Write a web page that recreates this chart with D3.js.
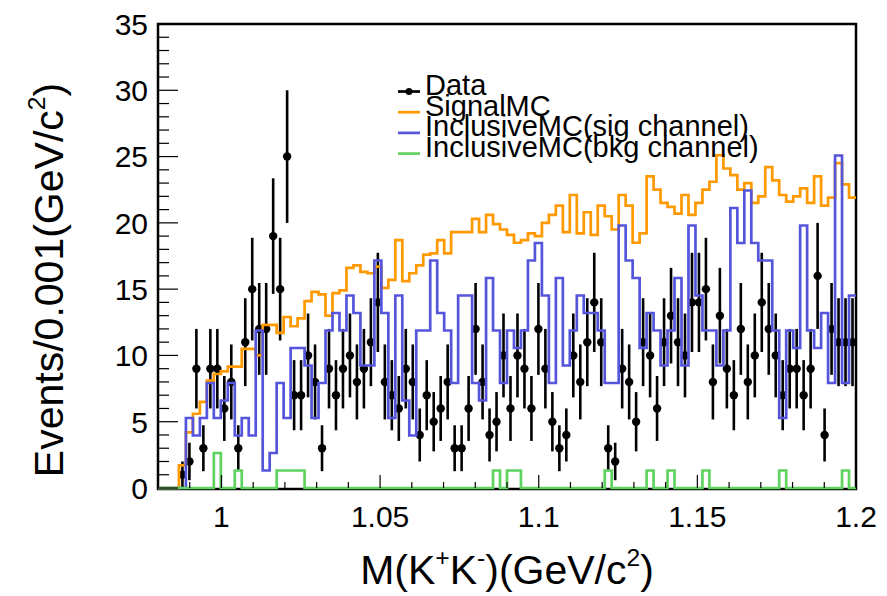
<!DOCTYPE html>
<html>
<head>
<meta charset="utf-8">
<script src="https://cdn.jsdelivr.net/npm/d3@7"></script>
<style>
  body { margin: 0; background: #fff; }
  svg { display: block; }
  text { font-family: "Liberation Sans", Arial, Helvetica, sans-serif; fill: #000; }
</style>
</head>
<body>
<div id="chart"></div>
<script>
// histogram range: 100 bins between 0.98 and 1.2
const xMin = 0.98, xMax = 1.2, nBins = 100;

// Data (events per bin)
const dataCounts = [
  0, 0, 0, 1, 2, 9, 3, 9, 9, 6,
  8, 3, 11, 15, 12, 12, 19, 15, 25, 7,
  7, 10, 8, 3, 9, 7, 9, 10, 8, 9,
  11, 14, 8, 7, 6, 9, 8, 4, 7, 5,
  6, 8, 3, 3, 6, 12, 8, 4, 5, 10,
  6, 10, 9, 6, 12, 9, 5, 3, 4, 10,
  8, 11, 14, 11, 3, 2, 9, 8, 5, 11,
  10, 6, 11, 13, 11, 10, 14, 14, 15, 8,
  13, 9, 7, 12, 8, 10, 14, 12, 10, 7,
  9, 9, 7, 9, 16, 4, 12, 11, 11, 11
];

// SignalMC (scaled)
const signalMC = [
  0, 0, 0, 1.7, 4.2, 5.6, 6.5, 8.1, 8.6, 8.8,
  9.15, 9.15, 10.5, 10.5, 10.0, 12.3, 12.3, 11.7, 12.9, 12.2,
  12.8, 14.1, 14.8, 14.6, 13.0, 14.7, 14.9, 16.6, 16.8, 16.3,
  16.2, 16.7, 15.1, 15.7, 18.7, 15.6, 16.2, 16.8, 17.6, 17.7,
  18.7, 17.7, 19.3, 19.3, 19.3, 20.3, 19.3, 20.6, 19.9, 19.5,
  19.1, 18.5, 18.7, 19.2, 19.0, 20.0, 20.6, 21.3, 19.3, 22.1,
  19.2, 20.8, 19.1, 21.3, 20.5, 19.5, 22.1, 21.3, 18.5, 19.2,
  23.5, 22.5, 21.5, 21.2, 20.7, 22.1, 20.6, 21.5, 22.5, 23.1,
  25.1, 24.1, 23.6, 22.5, 23.0, 21.5, 22.0, 24.2, 23.2, 22.1,
  21.6, 22.0, 22.6, 21.5, 23.5, 21.3, 21.9, 24.5, 22.9, 21.9
];

// InclusiveMC, signal channel (scaled)
const inclSig = [
  0, 0, 0, 0, 5.28, 3.96, 5.28, 7.92, 5.28, 6.6,
  7.92, 3.96, 5.28, 3.96, 11.88, 1.32, 2.64, 7.92, 5.28, 10.56,
  10.56, 9.24, 5.28, 7.92, 11.88, 13.2, 11.88, 14.52, 13.2, 9.24,
  9.24, 17.16, 13.2, 5.28, 14.52, 6.6, 3.96, 11.88, 11.88, 17.16,
  13.2, 11.88, 7.92, 14.52, 14.52, 7.92, 6.6, 15.84, 11.88, 7.92,
  11.88, 10.56, 11.88, 17.16, 18.48, 14.52, 7.92, 15.84, 9.24, 11.88,
  14.52, 13.2, 13.2, 11.88, 7.92, 7.92, 19.8, 17.16, 15.84, 10.56,
  13.2, 11.88, 9.24, 11.88, 15.84, 9.24, 19.8, 14.52, 11.88, 11.88,
  9.24, 11.88, 21.12, 18.48, 22.44, 18.48, 17.16, 17.16, 11.88, 5.28,
  11.88, 10.56, 19.8, 11.88, 10.56, 13.2, 7.92, 25.08, 7.92, 14.52
];

// InclusiveMC, background channel (scaled)
const inclBkg = [
  0, 0, 0, 0, 0, 0, 0, 0, 2.64, 0,
  0, 1.32, 0, 0, 0, 0, 0, 1.32, 1.32, 1.32,
  1.32, 0, 0, 0, 0, 0, 0, 0, 0, 0,
  0, 0, 0, 0, 0, 0, 0, 0, 0, 0,
  0, 0, 0, 0, 0, 0, 0, 0, 1.32, 0,
  1.32, 1.32, 0, 0, 0, 0, 0, 0, 0, 0,
  0, 0, 0, 0, 1.32, 0, 0, 0, 0, 0,
  1.32, 0, 0, 1.32, 0, 0, 0, 0, 1.32, 0,
  0, 0, 0, 0, 0, 0, 0, 0, 0, 1.32,
  0, 0, 0, 0, 0, 0, 0, 0, 1.32, 0
];

const xTickLabels = [1, 1.05, 1.1, 1.15, 1.2];
const yTickLabels = [0, 5, 10, 15, 20, 25, 30, 35];
const legendLabels = ["Data", "SignalMC", "InclusiveMC(sig channel)", "InclusiveMC(bkg channel)"];
const colors = { data: "#000", signal: "#ff9900", sig: "#5555dc", bkg: "#5fd35f" };

const W = 887, H = 596;
const margin = { top: 24, right: 31, bottom: 108, left: 158 };
const width = W - margin.left - margin.right;
const height = H - margin.top - margin.bottom;

const svg = d3.select("#chart").append("svg")
    .attr("width", W)
    .attr("height", H);

const g = svg.append("g")
    .attr("transform", `translate(${margin.left},${margin.top})`);

const x = d3.scaleLinear().domain([xMin, xMax]).range([0, width]);
const y = d3.scaleLinear().domain([0, 35]).range([height, 0]);

const binW = (xMax - xMin) / nBins;
const lowEdge = i => xMin + i * binW;

// frame first, histograms are painted over it
g.append("rect")
    .attr("x", 0).attr("y", 0)
    .attr("width", width).attr("height", height + 1)
    .attr("fill", "none")
    .attr("stroke", "#000")
    .attr("stroke-width", 2.5);

// step outline of a histogram
function stepPoints(values) {
    const pts = [[lowEdge(0), 0]];
    values.forEach((v, i) => {
        pts.push([lowEdge(i), v]);
        pts.push([lowEdge(i + 1), v]);
    });
    return pts;
}
const line = d3.line().x(d => x(d[0])).y(d => y(d[1]));

// data points with sqrt(N) errors
const dataPts = dataCounts.map((n, i) => ({ xc: lowEdge(i) + binW / 2, n }))
    .filter(d => d.n > 0);

const dataG = g.append("g");
dataG.selectAll("line")
    .data(dataPts)
    .enter().append("line")
    .attr("x1", d => x(d.xc)).attr("x2", d => x(d.xc))
    .attr("y1", d => y(Math.max(0, d.n - Math.sqrt(d.n))))
    .attr("y2", d => y(d.n + Math.sqrt(d.n)))
    .attr("stroke", colors.data)
    .attr("stroke-width", 2.6);
dataG.selectAll("circle")
    .data(dataPts)
    .enter().append("circle")
    .attr("cx", d => x(d.xc))
    .attr("cy", d => y(d.n))
    .attr("r", 4.2)
    .attr("fill", colors.data);

// MC histograms
[[signalMC, colors.signal], [inclSig, colors.sig], [inclBkg, colors.bkg]].forEach(([vals, c]) => {
    g.append("path")
        .attr("d", line(stepPoints(vals)))
        .attr("fill", "none")
        .attr("stroke", c)
        .attr("stroke-width", 2.7)
        .attr("stroke-linejoin", "miter");
});

// ticks (drawn inward like ROOT)
const yMinor = d3.range(0, 36, 1);
g.append("g").selectAll("line")
    .data(yMinor)
    .enter().append("line")
    .attr("x1", 0)
    .attr("x2", d => d % 5 === 0 ? 20 : 11)
    .attr("y1", d => y(d)).attr("y2", d => y(d))
    .attr("stroke", "#000").attr("stroke-width", 1.2);

const xMinor = d3.range(0, 23).map(i => +(xMin + i * 0.01).toFixed(2));
g.append("g").selectAll("line")
    .data(xMinor)
    .enter().append("line")
    .attr("x1", d => x(d)).attr("x2", d => x(d))
    .attr("y1", height)
    .attr("y2", d => height - (Math.round(d * 100) % 5 === 0 ? 13 : 6))
    .attr("stroke", "#000").attr("stroke-width", 1.2);

// tick labels
g.append("g").selectAll("text")
    .data(yTickLabels)
    .enter().append("text")
    .attr("x", -10)
    .attr("y", d => y(d))
    .attr("dy", "0.36em")
    .attr("text-anchor", "end")
    .style("font-size", "30px")
    .text(d => d);

g.append("g").selectAll("text")
    .data(xTickLabels)
    .enter().append("text")
    .attr("x", d => x(d))
    .attr("y", height + 39)
    .attr("text-anchor", "middle")
    .style("font-size", "30px")
    .text(d => d);

// text with superscripts; fs = base font size in px
function richText(sel, parts, fs) {
    const rise = fs * 0.45;
    let raised = false;
    parts.forEach(p => {
        const t = sel.append("tspan").text(p.t);
        if (p.sup) {
            t.attr("dy", -rise).style("font-size", (fs * 0.6) + "px");
            raised = true;
        } else if (raised) {
            t.attr("dy", rise);
            raised = false;
        }
    });
}

const xTitle = svg.append("text")
    .attr("x", 507)
    .attr("y", 584)
    .attr("text-anchor", "middle")
    .style("font-size", "41px");
richText(xTitle, [{ t: "M(K" }, { t: "+", sup: true }, { t: "K" }, { t: "-", sup: true }, { t: ")(GeV/c" }, { t: "2", sup: true }, { t: ")" }], 41);

const yTitle = svg.append("text")
    .attr("transform", "translate(63,280) rotate(-90)")
    .attr("text-anchor", "middle")
    .style("font-size", "41px");
richText(yTitle, [{ t: "Events/0.001(GeV/c" }, { t: "2", sup: true }, { t: ")" }], 41);

// legend
const legendColors = [colors.data, colors.signal, colors.sig, colors.bkg];
const legend = svg.append("g").attr("transform", "translate(398,91.5)");
legendLabels.forEach((lab, i) => {
    const row = legend.append("g").attr("transform", `translate(0,${i * 20.7})`);
    row.append("line")
        .attr("x1", 0).attr("x2", 22)
        .attr("y1", 0).attr("y2", 0)
        .attr("stroke", legendColors[i])
        .attr("stroke-width", 2.7);
    if (i === 0) {
        row.append("circle").attr("cx", 11).attr("cy", 0).attr("r", 3.5).attr("fill", "#000");
    }
    row.append("text")
        .attr("x", 27)
        .attr("y", 3.5)
        .style("font-size", "29px")
        .text(lab);
});
</script>
</body>
</html>
